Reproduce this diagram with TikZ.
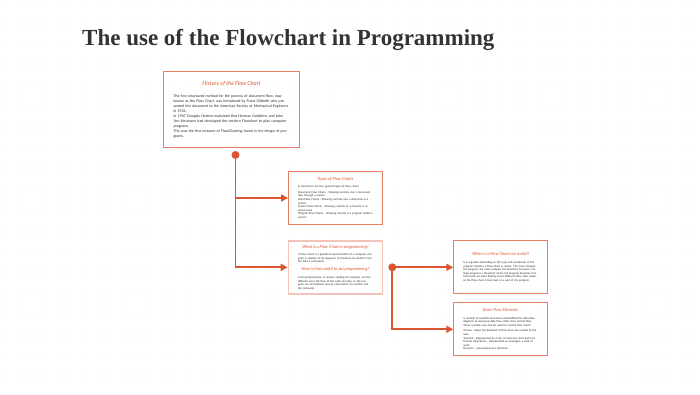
\documentclass[tikz,border=0pt]{standalone}
\usepackage{fontspec}
\setmainfont{Lato}
\newfontfamily\headfont{Liberation Serif}
\usetikzlibrary{positioning, arrows.meta}

\definecolor{flowred}{HTML}{DD5530}
\definecolor{titlegray}{HTML}{333333}

\newcommand{\bigtitle}[1]{{\centering\fontsize{5.6}{7}\selectfont\itshape\color{flowred}#1\par}\vspace{7pt}}
\newcommand{\smalltitle}[1]{{\centering\fontsize{4.2}{5}\selectfont\itshape\color{flowred}#1\par}\vspace{4pt}}

\begin{document}
\begin{tikzpicture}[
			x=1pt, y=-1pt,
			card/.style={rectangle, draw=flowred!75, line width=1pt, align=left, inner xsep=9pt, inner ysep=3pt, text width=75pt, minimum width=94pt, minimum height=53pt, font=\fontsize{2.7}{3.6}\selectfont, text=black!85},
			bigcard/.style={card, inner xsep=10pt, text width=116pt, minimum width=136pt, minimum height=76pt, font=\fontsize{3.6}{5}\selectfont},
			palecard/.style={card, draw=flowred!35, line width=1.6pt},
			link/.style={-{Triangle[length=7pt, width=7pt]}, draw=flowred, line width=1.7pt},
			joint/.style={fill=flowred}
			]
			% background and grid of dots
			\fill[white] (0,0) rectangle (700,394);
			\useasboundingbox (0,0) rectangle (700,394);
			\foreach \gx in {6,19,...,700}
				\foreach \gy in {5,18,...,394}
					\fill[black!8] (\gx,\gy) circle (0.55pt);
			
			% Title
			\node (title) [anchor=base west, inner sep=0pt, font=\headfont\bfseries\fontsize{23}{27}\selectfont, text=titlegray] at (82,45) {The use of the Flowchart in Programming};
			
			% Boxes
			\node (hist) [bigcard, anchor=north west] at (163,71) {\bigtitle{History of the Flow Chart}The first structured method for the process of document flow, now known as the Flow Chart, was introduced by Frank Gilbreth who presented this document to the American Society of Mechanical Engineers in 1921.\\In 1947 Douglas Hartree explained that Herman Goldstine and John Von Neumann had developed the modern Flowchart to plan computer programs.\\This was the first instance of FlowCharting found in the design of programs.};
			
			\node (types) [card, anchor=north west] at (288,171) {\smalltitle{Types of Flow Charts}In total there are four general types of flow charts:\\[2pt]Document Flow Charts - Showing controls over a document flow through a system\\Data Flow Charts - Showing controls over a data flow in a system\\System Flow Charts - Showing controls at a physical or resource level\\Program Flow Charts - Showing Control in a program within a system};
			
			\node (what) [palecard, below=15pt of types] {\smalltitle{What is a Flow Chart in programming?}A Flow Chart is a graphical representation of a computer program in relation to its sequence of functions (as distinct from the data it processes).\\[3pt]{\centering\fontsize{4.2}{5}\selectfont\itshape\color{flowred}How is that useful to aid programming?\par}\vspace{4pt}It lets programmers, or anyone reading the program, see the different ways the flow of the code can take, so the program can be followed step by step before it is written into the computer.};
			
			\node (when) [card, right=70pt of what] {\smalltitle{When is a Flow Chart not useful?}It is arguable depending on the type and complexity of the program whether a Flow Chart is useful. The more complex the program, the more complex the flowchart becomes. For large programs a flowchart of the full program becomes cluttered and can make finding errors difficult rather than easier, so the flow chart is best kept to a part of the program.};
			
			\node (basic) [card, below=8pt of when] {\smalltitle{Basic Flow Elements}A number of symbols have been standardized for data flow diagrams to represent data flow rather than control flow. These symbols may also be used for control flow charts.\\[2pt]Arrows - Show the direction of flow from one symbol to the next.\\Terminal - Represented by ovals, it marks the start and end.\\Process Operations - Represented as rectangles, a step of work.\\Decision - represented as a diamond.};
			
			% Split points
			\coordinate[below=7pt of hist.south, xshift=4pt] (split1);
			\coordinate[right=9pt of what.east] (split2);
			
			% Arrows
			\draw [link] (split1) |- (types.west);
			\draw [link] (split1) |- (what.west);
			\draw [link] (split2) -- (when.west);
			\draw [link] (split2) |- (basic.west);
			
			\fill [joint] (split1) circle (4pt);
			\fill [joint] (split2) circle (4pt);
		\end{tikzpicture}
\end{document}
